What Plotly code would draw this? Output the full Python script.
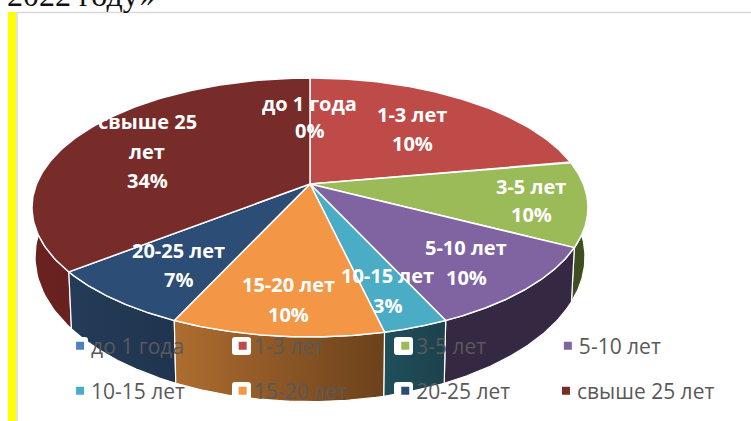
import numpy as np
import plotly.graph_objects as go

# slice sizes as measured on the picture (share of the full turn, %)
categories = ["до 1 года", "1-3 лет", "3-5 лет", "5-10 лет", "10-15 лет", "15-20 лет", "20-25 лет", "свыше 25 лет"]
slice_shares = [0.0, 22.1, 10.6, 10.5, 3.2, 10.4, 7.5, 35.7]
printed_percent = ["0%", "10%", "10%", "10%", "3%", "10%", "7%", "34%"]
top_colors = ["#4F81BD", "#BE4B48", "#9BBB59", "#8064A2", "#4BACC6", "#F39645", "#2C4D75", "#772C2A"]
side_colors = [
    ["#2F4D71", "#2F4D71"], ["#722D2B", "#722D2B"], ["#3F4F22", "#3F4F22"], ["#352842", "#352842"],
    ["#1F4F5B", "#1C424C"], ["#AE6D30", "#6B411B"], ["#243C59", "#1F344E"], ["#6A2220", "#571C1A"],
]
legend_groups = ["legend", "legend", "legend", "legend", "legend2", "legend2", "legend2", "legend3"]

# projection of the tilted disc onto the page
CX, K = 310.0, 0.1815
TOP = dict(y0=184.0, a=125.2, b=273.4)
BASE = dict(y0=230.7, a=139.9, b=270.4)


def project(theta, disc):
    u, v = np.sin(theta), np.cos(theta)
    w = 1 + K * v
    return CX + disc["b"] * u / w, disc["y0"] - disc["a"] * v / w


fig = go.Figure()
edges = np.radians(np.cumsum([0.0] + slice_shares) * 3.6)
spans = [(i, edges[i], edges[i + 1]) for i in range(len(categories)) if slice_shares[i] > 0]

# side walls, back to front
for i, t0, t1 in sorted(spans, key=lambda s: -abs((s[1] + s[2]) / 2 - np.pi)):
    th = np.linspace(t0, t1, 80)
    xt, yt = project(th, TOP)
    xb, yb = project(th[::-1], BASE)
    fig.add_trace(go.Scatter(
        x=np.r_[xt, xb, xt[0]], y=np.r_[yt, yb, yt[0]], mode="lines", fill="toself",
        line=dict(color="white", width=1.2), showlegend=False, hoverinfo="skip",
        fillgradient=dict(type="horizontal", colorscale=[[0, side_colors[i][0]], [1, side_colors[i][1]]]),
    ))

# top face
for i, t0, t1 in spans:
    th = np.linspace(t0, t1, 120)
    xt, yt = project(th, TOP)
    fig.add_trace(go.Scatter(
        x=np.r_[CX, xt, CX], y=np.r_[TOP["y0"], yt, TOP["y0"]], mode="lines", fill="toself",
        fillcolor=top_colors[i], line=dict(color="white", width=1.5), showlegend=False,
        name=categories[i], hoverinfo="skip",
    ))

# legend entries
for i, name in enumerate(categories):
    fig.add_trace(go.Scatter(
        x=[None], y=[None], mode="markers", name=name,
        marker=dict(symbol="square", size=8, color=top_colors[i]),
        legend=legend_groups[i],
    ))

label_lines = [
    (categories[0], 309, 103), (printed_percent[0], 309, 130),
    (categories[1], 412, 114), (printed_percent[1], 412, 143),
    (categories[2], 531, 186), (printed_percent[2], 531, 214),
    (categories[3], 466, 247), (printed_percent[3], 466, 277),
    (categories[4], 387, 275), (printed_percent[4], 387, 305),
    (categories[5], 288, 284), (printed_percent[5], 288, 314),
    (categories[6], 178, 250), (printed_percent[6], 178, 279),
    ("свыше 25", 147, 121), ("лет", 147, 151), (printed_percent[7], 147, 180),
]
annotations = [
    dict(text=t, x=x, y=y, xref="x", yref="y", showarrow=False,
         font=dict(family="Open Sans", size=20, color="white", weight="bold"))
    for t, x, y in label_lines
]
annotations.append(dict(
    text="2022 году»", x=7, y=13, xref="x", yref="y", xanchor="left", yanchor="bottom", showarrow=False,
    font=dict(family="Liberation Serif", size=32, color="#111111"), borderpad=0, borderwidth=0,
))


def rounded(a, b, c, d, r=3):
    return (f"M{a+r},{c} L{b-r},{c} Q{b},{c} {b},{c+r} L{b},{d-r} Q{b},{d} {b-r},{d} "
            f"L{a+r},{d} Q{a},{d} {a},{d-r} L{a},{c+r} Q{a},{c} {a+r},{c} Z")


halos = [(76, 88, 337, 352), (232, 251, 337, 355), (394, 413, 337, 355), (232, 251, 382, 400), (394, 413, 382, 400)]
shapes = [
    dict(type="path", path=rounded(*h), xref="x", yref="y", layer="above",
         fillcolor="white", line=dict(color="white", width=0))
    for h in halos
]
shapes += [
    dict(type="rect", x0=8, x1=16, y0=12, y1=421, xref="x", yref="y", fillcolor="#FFFF00", line_width=0, layer="below"),
    dict(type="line", x0=16, x1=751, y0=12.5, y1=12.5, xref="x", yref="y", line=dict(color="#D9D9D9", width=1.5), layer="below"),
    dict(type="line", x0=17, x1=17, y0=12, y1=421, xref="x", yref="y", line=dict(color="#D9D9D9", width=1.5), layer="below"),
]

legend_style = dict(
    orientation="h", xanchor="left", yanchor="middle",
    bgcolor="rgba(0,0,0,0)", font=dict(family="Open Sans", size=21, color="#595959"),
    itemclick=False, itemdoubleclick=False,
)
fixed_columns = dict(entrywidth=117.6, entrywidthmode="pixels")
fig.update_layout(
    width=751, height=421, margin=dict(l=0, r=0, t=0, b=0),
    paper_bgcolor="white", plot_bgcolor="white",
    xaxis=dict(range=[0, 751], visible=False, fixedrange=True),
    yaxis=dict(range=[421, 0], visible=False, fixedrange=True),
    legend=dict(x=0.068, y=1 - 346 / 421, **legend_style, **fixed_columns),
    legend2=dict(x=0.068, y=1 - 391 / 421, **legend_style, **fixed_columns),
    legend3=dict(x=0.715, y=1 - 391 / 421, **legend_style),
    annotations=annotations, shapes=shapes,
)
page_fix = """
document.body.style.margin = '0';
document.querySelectorAll('.legendsymbols').forEach(function (g) {
  g.setAttribute('transform', 'translate(9,0)');
});
"""
fig.write_html("out.html", config={"displayModeBar": False}, post_script=page_fix)
